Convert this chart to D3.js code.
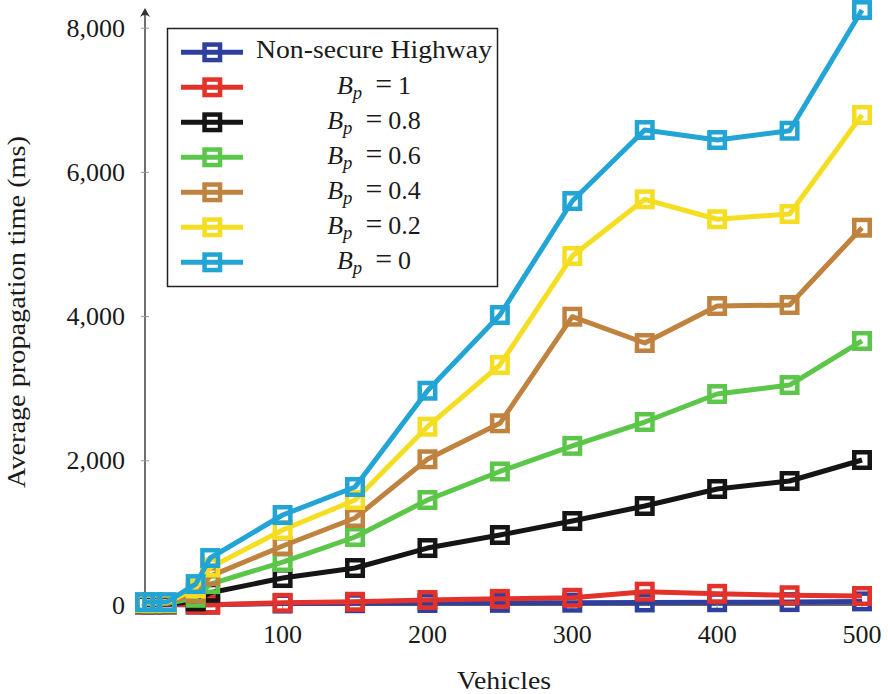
<!DOCTYPE html>
<html>
<head>
<meta charset="utf-8">
<script src="https://cdn.jsdelivr.net/npm/d3@7/dist/d3.min.js"></script>
<style>
  html, body { margin: 0; padding: 0; background: #fff; }
  svg { display: block; }
</style>
</head>
<body>
<svg id="chart" width="888" height="694" font-family="'Liberation Serif', 'DejaVu Serif', serif"></svg>
<script>
// Number of vehicles on the x axis
const vehicles = [5, 10, 20, 40, 50, 100, 150, 200, 250, 300, 350, 400, 450, 500];

// Average propagation time (ms) per scenario
const nonSecure = [5, 5, 5, 5, 5, 20, 25, 28, 30, 32, 35, 38, 40, 50];
const bp1  = [10, 10, 10, 8, 5, 30, 45, 70, 85, 100, 185, 155, 135, 125];
const bp08 = [15, 15, 15, 50, 170, 374, 513, 790, 971, 1165, 1373, 1609, 1720, 2011];
const bp06 = [20, 20, 20, 100, 290, 596, 943, 1456, 1852, 2207, 2538, 2926, 3051, 3662];
const bp04 = [25, 25, 25, 160, 400, 818, 1207, 2021, 2520, 3999, 3634, 4147, 4161, 5233];
const bp02 = [30, 30, 30, 230, 520, 1040, 1456, 2473, 3329, 4840, 5627, 5350, 5423, 6796];
const bp0  = [40, 40, 40, 290, 652, 1248, 1637, 2972, 4022, 5603, 6588, 6449, 6578, 8252];

const seriesNames  = ["Non-secure Highway", "1", "0.8", "0.6", "0.4", "0.2", "0"];
const seriesValues = [nonSecure, bp1, bp08, bp06, bp04, bp02, bp0];
const seriesColors = ["#2f3fa0", "#e3322a", "#151515", "#5cc64a", "#c0823f", "#f5dd22", "#22a4d4"];

const xTicks = [100, 200, 300, 400, 500];
const yTicks = [0, 2000, 4000, 6000, 8000];

const svg = d3.select("#chart");

const x = d3.scaleLinear().domain([5, 500]).range([145, 862]);
const y = d3.scaleLinear().domain([0, 8000]).range([605, 28.2]);

const FS = 26;
const axisColor = "#333";
const textColor = "#1a1a1a";

// y axis with arrow head
const gy = svg.append("g").attr("class", "y-axis");
gy.append("line")
  .attr("x1", x(5)).attr("x2", x(5))
  .attr("y1", y(0)).attr("y2", 10)
  .attr("stroke", axisColor).attr("stroke-width", 1.4);
gy.append("path")
  .attr("d", `M${x(5)},8 L${x(5) - 5},17 Q${x(5)},13 ${x(5) + 5},17 Z`)
  .attr("fill", axisColor);
yTicks.forEach(t => {
  gy.append("line")
    .attr("x1", x(5) - 4).attr("x2", x(5) + 4)
    .attr("y1", y(t)).attr("y2", y(t))
    .attr("stroke", "#999").attr("stroke-width", 1);
  gy.append("text")
    .attr("x", 125).attr("y", y(t) + 8.5)
    .attr("text-anchor", "end")
    .attr("font-size", FS).attr("fill", textColor)
    .text(d3.format(",")(t));
});

// x axis
const gx = svg.append("g").attr("class", "x-axis");
gx.append("line")
  .attr("x1", x(5)).attr("x2", 866)
  .attr("y1", y(0)).attr("y2", y(0))
  .attr("stroke", axisColor).attr("stroke-width", 1.4);
xTicks.forEach(t => {
  gx.append("line")
    .attr("x1", x(t)).attr("x2", x(t))
    .attr("y1", y(0) - 4).attr("y2", y(0) + 4)
    .attr("stroke", "#999").attr("stroke-width", 1);
  gx.append("text")
    .attr("x", x(t)).attr("y", 643)
    .attr("text-anchor", "middle")
    .attr("font-size", FS).attr("fill", textColor)
    .text(t);
});

// axis titles
svg.append("text")
  .attr("x", 504).attr("y", 689)
  .attr("text-anchor", "middle")
  .attr("font-size", FS).attr("fill", textColor)
  .attr("textLength", 94).attr("lengthAdjust", "spacingAndGlyphs")
  .text("Vehicles");
svg.append("text")
  .attr("transform", "translate(25,312) rotate(-90)")
  .attr("text-anchor", "middle")
  .attr("font-size", FS).attr("fill", textColor)
  .attr("textLength", 352).attr("lengthAdjust", "spacingAndGlyphs")
  .text("Average propagation time (ms)");

// series: line then square marks, drawn in order
const line = d3.line().x(d => x(d[0])).y(d => y(d[1]));
const MS = 15.5; // mark side

seriesValues.forEach((vals, i) => {
  const pts = vehicles.map((v, j) => [v, vals[j]]);
  const g = svg.append("g").attr("class", "series");
  g.append("path")
    .datum(pts)
    .attr("d", line)
    .attr("fill", "none")
    .attr("stroke", seriesColors[i])
    .attr("stroke-width", 5)
    .attr("stroke-linejoin", "round");
  g.selectAll("rect")
    .data(pts)
    .join("rect")
    .attr("x", d => x(d[0]) - MS / 2)
    .attr("y", d => y(d[1]) - MS / 2)
    .attr("width", MS).attr("height", MS)
    .attr("fill", "none")
    .attr("stroke", seriesColors[i])
    .attr("stroke-width", 4.5);
});

// legend
const lg = svg.append("g").attr("class", "legend");
lg.append("rect")
  .attr("x", 167.5).attr("y", 28.5)
  .attr("width", 330).attr("height", 258)
  .attr("fill", "#fff")
  .attr("stroke", "#222").attr("stroke-width", 1.5);

seriesNames.forEach((name, i) => {
  const cy = 52.3 + i * 35;
  lg.append("line")
    .attr("x1", 181).attr("x2", 243)
    .attr("y1", cy).attr("y2", cy)
    .attr("stroke", seriesColors[i]).attr("stroke-width", 5);
  lg.append("rect")
    .attr("x", 212.3 - MS / 2).attr("y", cy - MS / 2)
    .attr("width", MS).attr("height", MS)
    .attr("fill", "none")
    .attr("stroke", seriesColors[i]).attr("stroke-width", 4.5);
  if (i === 0) {
    lg.append("text")
      .attr("x", 256).attr("y", cy + 6)
      .attr("font-size", FS).attr("fill", textColor)
      .attr("textLength", 236).attr("lengthAdjust", "spacingAndGlyphs")
      .text(name);
  } else {
    const t = lg.append("text")
      .attr("x", 374).attr("y", cy + 7)
      .attr("text-anchor", "middle")
      .attr("font-size", FS).attr("fill", textColor);
    t.append("tspan").attr("font-style", "italic").text("B");
    t.append("tspan").attr("font-style", "italic")
      .attr("font-size", FS * 0.72).attr("dy", 5).text("p");
    t.append("tspan").attr("dy", -5).attr("dx", 13)
      .attr("font-size", FS * 1.15).text("=");
    t.append("tspan").attr("dx", 6).text(name);
  }
});
</script>
</body>
</html>
